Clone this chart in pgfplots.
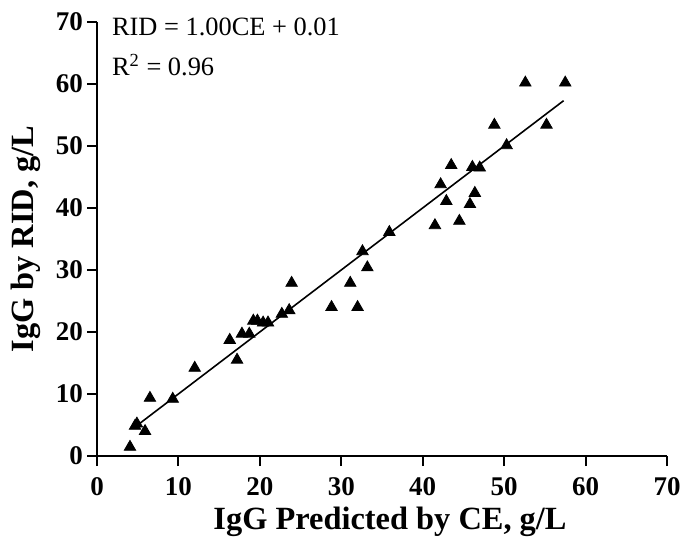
\documentclass[border=0pt]{standalone}
\usepackage{pgfplots}
\pgfplotsset{compat=1.18}
\usepackage{fontspec}
\setmainfont{Liberation Serif}
\begin{document}
\begin{tikzpicture}
\begin{axis}[
scale only axis,
width=285pt,
height=217pt,
xmin=0, xmax=70,
ymin=0, ymax=70,
xtick={0,10,...,70},
ytick={0,10,...,70},
axis x line=bottom,
axis y line=left,
axis line style={-, line width=1pt},
tick align=outside,
tick style={line width=1pt, black},
major tick length=5pt,
/pgf/number format/assume math mode=true,
tick label style={font=\fontsize{13.5}{15}\selectfont\bfseries},
xticklabel style={yshift=-2pt},
yticklabel style={xshift=1.5pt},
xlabel={IgG Predicted by CE, g/L},
ylabel={IgG by RID, g/L},
label style={font=\fontsize{16.2}{18}\selectfont\bfseries},
xlabel style={yshift=1pt, xshift=4pt},
ylabel style={yshift=1pt},
clip=false
]
\addplot[only marks, mark=triangle*, mark size=3.3pt, black] coordinates {
(4.05,1.45) (4.67,4.84) (4.9,5.2) (5.9,4.0) (6.5,9.35) (9.3,9.2)
(12.0,14.2) (16.3,18.7) (17.2,15.5) (17.8,19.7) (18.7,19.7)
(19.2,21.8) (19.7,21.8) (20.4,21.5) (21.0,21.5) (22.7,22.9) (23.6,23.5)
(23.9,27.9) (28.8,24.0) (31.1,27.9) (32.0,24.0) (32.6,33.0) (33.2,30.4)
(35.9,36.1) (41.5,37.2) (42.9,41.1) (42.2,43.8) (43.5,46.9) (44.5,37.9)
(45.8,40.6) (46.4,42.4) (46.1,46.6) (47.0,46.5) (48.8,53.4) (50.3,50.1)
(52.6,60.2) (55.2,53.4) (57.5,60.2)
};
\addplot[black, line width=0.8pt] coordinates {(4.8,4.81) (57.3,57.31)};
\node[anchor=base west, font=\fontsize{13.2}{15}\selectfont, inner sep=0pt] at (axis cs:1.8,67.9) {RID = 1.00CE + 0.01};
\node[anchor=base west, font=\fontsize{13.2}{15}\selectfont, inner sep=0pt] at (axis cs:1.8,61.45) {R\textsuperscript{2} = 0.96};
\end{axis}
\pgfresetboundingbox
\path[use as bounding box] ([shift={(-48.5pt,-42pt)}]current axis.south west) rectangle ([shift={(9.5pt,11pt)}]current axis.north east);
\end{tikzpicture}
\end{document}
